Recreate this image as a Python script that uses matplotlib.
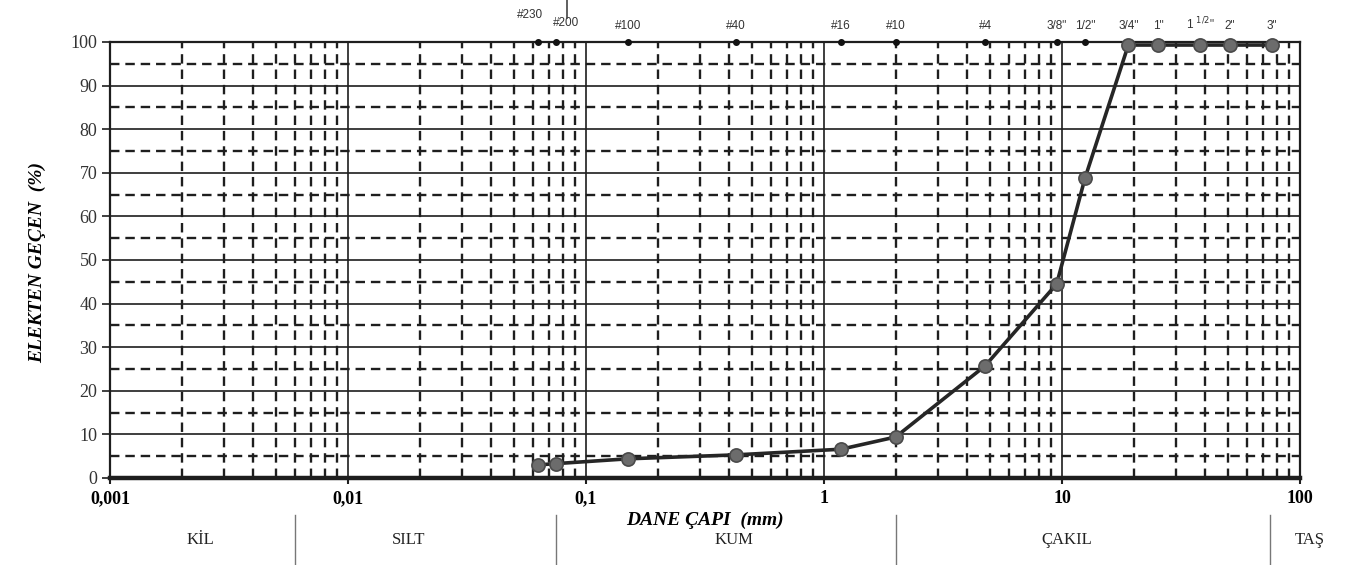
# Elek analizi (granülometri) eğrisi - yarı logaritmik grafik
import matplotlib.pyplot as plt
import matplotlib.transforms as mtransforms
from matplotlib.lines import Line2D
from matplotlib.ticker import LogLocator, NullFormatter

# elek adları, göz açıklıkları (mm) ve elekten geçen yüzdeler
sieve_names = ["#230", "#200", "#100", "#40", "#16", "#10", "#4",
               '3/8"', '1/2"', '3/4"', '1"', '1 $^{1/2}$"', '2"', '3"']
sieve_mm = [0.063, 0.075, 0.15, 0.425, 1.18, 2.0, 4.75,
            9.5, 12.5, 19.0, 25.4, 38.1, 50.8, 76.2]
passing = [3.0, 3.3, 4.4, 5.3, 6.6, 9.4, 25.7,
           44.5, 68.8, 99.3, 99.3, 99.3, 99.3, 99.3]

# zemin sınıfları (alt şerit)
zone_names = ["KİL", "SILT", "KUM", "ÇAKIL", "TAŞ"]
zone_centers = [0.0024, 0.018, 0.42, 10.5, 110.0]
zone_bounds = [0.006, 0.075, 2.0, 75.0]

x_ticks = [0.001, 0.01, 0.1, 1, 10, 100]
x_ticklabels = ["0,001", "0,01", "0,1", "1", "10", "100"]
y_ticks = list(range(0, 101, 10))

SERIF = "Liberation Serif"
SANS = "Liberation Sans"
INK = "#1e1e1e"

fig = plt.figure(figsize=(13.54, 5.65), dpi=100)
ax = fig.add_axes([0.0812, 0.154, 0.8789, 0.7717])

ax.set_xscale("log")
ax.set_xlim(0.001, 100)
ax.set_ylim(0, 100)

# eksen bölmeleri
ax.set_xticks(x_ticks)
ax.set_xticklabels(x_ticklabels, family=SERIF, fontsize=13, fontweight="bold")
ax.xaxis.set_minor_locator(LogLocator(base=10, subs=range(2, 10), numticks=20))
ax.xaxis.set_minor_formatter(NullFormatter())
ax.set_yticks(y_ticks)
ax.set_yticklabels([str(v) for v in y_ticks], family=SERIF, fontsize=13, color="#333333")
ax.set_yticks(range(5, 100, 10), minor=True)

ax.tick_params(axis="x", which="major", length=4, width=1.5, color=INK, pad=5)
ax.tick_params(axis="y", which="major", length=6, width=1.2, color=INK, pad=3)
ax.tick_params(which="minor", length=0)

# ızgara: tam çizgiler ana bölmelerde, kesikli çizgiler ara bölmelerde
ax.grid(which="major", color=INK, lw=1.2, ls="-")
ax.grid(which="minor", color=INK, lw=1.7, ls=(0, (4, 2.5)))
ax.set_axisbelow(True)

for side in ["left", "right", "top"]:
    ax.spines[side].set_color(INK)
    ax.spines[side].set_linewidth(1.6)
ax.spines["bottom"].set_color(INK)
ax.spines["bottom"].set_linewidth(3.2)

# elek göstergeleri (üst kenar)
ax.plot(sieve_mm, [100] * len(sieve_mm), "o", ms=4, color="#111111",
        clip_on=False, zorder=4)
offsets = {"#230": (-6, 15), "#200": (7, 9)}
for name, x in zip(sieve_names, sieve_mm):
    dx, dy = offsets.get(name, (0, 7))
    ax.annotate(name, (x, 100), xytext=(dx, dy), textcoords="offset points",
                ha="center", va="bottom", fontsize=8.5, family=SANS,
                color="#333333", annotation_clip=False)

# granülometri eğrisi
ax.plot(sieve_mm, passing, "-o", color="#262626", lw=2.6, ms=9.5,
        mfc="#6c6c6c", mec="#4a4a4a", mew=1.2, clip_on=False, zorder=5)

# eksen başlıkları
ax.set_xlabel("DANE ÇAPI  (mm)", family=SERIF, style="italic",
              fontweight="bold", fontsize=14, va="center")
ax.xaxis.set_label_coords(0.5, -0.097)
ax.set_ylabel("ELEKTEN GEÇEN  (%)", family=SERIF, style="italic",
              fontweight="bold", fontsize=14, va="center")
ax.yaxis.set_label_coords(-0.0605, 0.495)

# zemin sınıfları şeridi
trans = mtransforms.blended_transform_factory(ax.transData, ax.transAxes)
for b in zone_bounds:
    ax.plot([b, b], [-0.085, -0.2], transform=trans, color="#777777",
            lw=1.0, clip_on=False)
for name, x in zip(zone_names, zone_centers):
    ax.text(x, -0.142, name, transform=trans, ha="center", va="center",
            family=SERIF, fontsize=12, color="#222222", clip_on=False)

# üstte kesilmiş küçük çizgi
fig.add_artist(Line2D([567 / 1354] * 2, [1.0, 1 - 18 / 565], color="#444444", lw=1.2))

fig.savefig("out.png", dpi=100, facecolor="white")
plt.close(fig)
